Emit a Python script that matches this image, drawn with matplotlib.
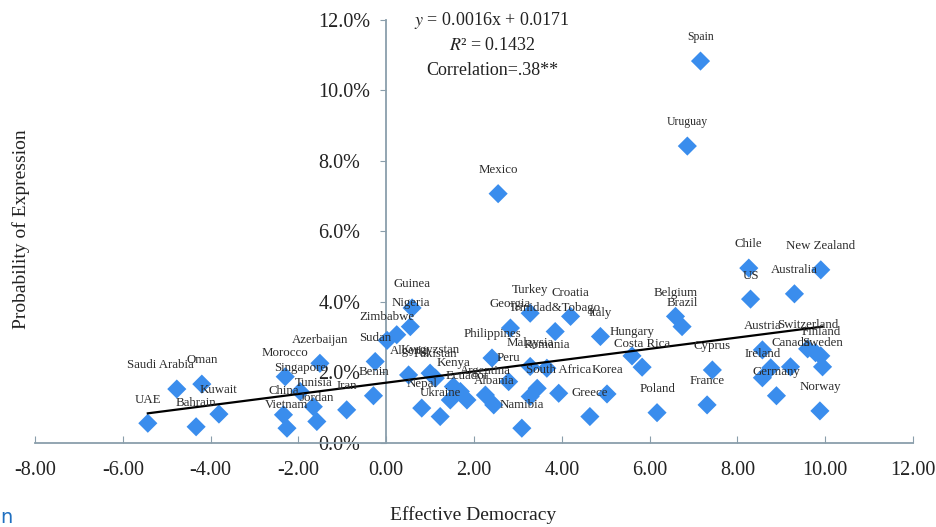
import numpy as np
import matplotlib
matplotlib.use("Agg")
import matplotlib.pyplot as plt
from matplotlib.ticker import FuncFormatter, MultipleLocator

# --- data ---
countries = [
    "UAE", "Saudi Arabia", "Oman", "Bahrain", "Kuwait",
    "Morocco", "Singapore", "China", "Vietnam", "Azerbaijan",
    "Tunisia", "Jordan", "Iran", "Sudan", "Benin",
    "Zimbabwe", "", "Guinea", "Nigeria", "Algeria",
    "Kyrgyzstan", "Pakistan", "Nepal", "Ukraine", "Kenya",
    "", "", "Ecuador", "Philippines", "Argentina",
    "Albania", "Peru", "Georgia", "Namibia", "Turkey",
    "Malaysia", "Romania", "", "", "South Africa",
    "Trinidad&Tobago", "Croatia", "Greece", "Italy", "Korea",
    "Hungary", "Costa Rica", "Poland", "Belgium", "Brazil",
    "Uruguay", "Spain", "Cyprus", "France", "Chile",
    "US", "Austria", "Ireland", "", "Germany",
    "Canada", "Australia", "Switzerland", "", "Finland",
    "Sweden", "New Zealand", "Norway", "Mexico",
]
democracy = [
    -5.43, -4.77, -4.20, -4.33, -3.81,
    -2.30, -1.96, -2.34, -2.26, -1.51,
    -1.66, -1.58, -0.90, -0.25, -0.29,
    0.02, 0.24, 0.59, 0.55, 0.51,
    1.00, 1.12, 0.81, 1.23, 1.53,
    1.46, 1.69, 1.84, 2.41, 2.26,
    2.45, 2.79, 2.83, 3.09, 3.28,
    3.28, 3.66, 3.44, 3.28, 3.93,
    3.85, 4.20, 4.64, 4.88, 5.03,
    5.60, 5.83, 6.17, 6.59, 6.74,
    6.86, 7.16, 7.43, 7.31, 8.26,
    8.30, 8.57, 8.57, 8.76, 8.89,
    9.21, 9.30, 9.60, 9.78, 9.90,
    9.94, 9.90, 9.88, 2.55,
]
expression_pct = [
    0.56, 1.53, 1.67, 0.46, 0.82,
    1.88, 1.46, 0.80, 0.42, 2.26,
    1.03, 0.61, 0.94, 2.31, 1.34,
    2.91, 3.07, 3.83, 3.30, 1.93,
    1.98, 1.84, 0.99, 0.75, 1.60,
    1.22, 1.46, 1.22, 2.41, 1.36,
    1.08, 1.74, 3.26, 0.42, 3.68,
    2.17, 2.12, 1.55, 1.32, 1.41,
    3.16, 3.59, 0.75, 3.02, 1.39,
    2.47, 2.15, 0.86, 3.59, 3.30,
    8.42, 10.83, 2.07, 1.08, 4.96,
    4.08, 2.64, 1.85, 2.13, 1.34,
    2.16, 4.23, 2.67, 2.56, 2.47,
    2.16, 4.91, 0.91, 7.07,
]
slope, intercept = 0.0016, 0.0171
eq_lines = ["$y$ = 0.0016x + 0.0171", "$R$² = 0.1432", "Correlation=.38**"]

x = np.array(democracy)
y = np.array(expression_pct) / 100.0

plt.rcParams['font.family'] = ['Liberation Serif', 'DejaVu Serif']
plt.rcParams['mathtext.fontset'] = 'stix'

axis_col = '#8a9eab'
blue = '#3a8ded'

fig = plt.figure(figsize=(9.36, 5.27), dpi=100)
ax = fig.add_axes([0.0374, 0.1594, 0.938, 0.803])

ax.scatter(x, y, marker='D', s=95, color=blue, edgecolors='none', zorder=3)

# trend line from the fitted equation
xl = np.array([x.min(), x.max()])
ax.plot(xl, slope * xl + intercept, color='black', lw=1.6, zorder=4)

small = {"Spain", "Uruguay"}
nudge = {"Saudi Arabia": -12}
for name, xi, yi in zip(countries, x, y):
    if not name:
        continue
    ax.annotate(name, (xi, yi), xytext=(nudge.get(name, 0), 17), textcoords='offset points',
                ha='center', va='center', fontsize=8.5 if name in small else 9.3,
                color='#2b2b2b', zorder=5)

ax.set_xlim(-8, 12)
ax.set_ylim(0, 0.12)
ax.xaxis.set_major_locator(MultipleLocator(2))
ax.yaxis.set_major_locator(MultipleLocator(0.02))
ax.xaxis.set_major_formatter(FuncFormatter(lambda v, p: f"{v:.2f}"))
ax.yaxis.set_major_formatter(FuncFormatter(lambda v, p: f"{v*100:.1f}%"))

ax.spines['left'].set_position(('data', 0))
ax.spines['top'].set_visible(False)
ax.spines['right'].set_visible(False)
for s in ('left', 'bottom'):
    ax.spines[s].set_color(axis_col)
    ax.spines[s].set_linewidth(1.3)
ax.tick_params(axis='x', direction='in', length=5, color=axis_col, labelsize=14.5, pad=13)
ax.tick_params(axis='y', direction='out', length=4, color=axis_col, labelsize=14.5, pad=45)
for lab in ax.get_xticklabels():
    lab.set_color('#222222')
for lab in ax.get_yticklabels():
    lab.set_color('#222222')
    lab.set_horizontalalignment('left')

for i, t in enumerate(eq_lines):
    fig.text(0.526, 0.962 - i * 0.048, t, ha='center', va='center', fontsize=13, color='#222222')

fig.text(0.505, 0.022, "Effective Democracy", ha='center', va='center', fontsize=14, color='#222222')
fig.text(0.023, 0.565, "Probability of Expression", ha='center', va='center', rotation=90,
         fontsize=14, color='#222222')
fig.text(0.0, 0.018, "n", ha='left', va='center', fontsize=14, color='#1f6fc0',
         family='DejaVu Sans')

fig.savefig("out.png", dpi=100)
